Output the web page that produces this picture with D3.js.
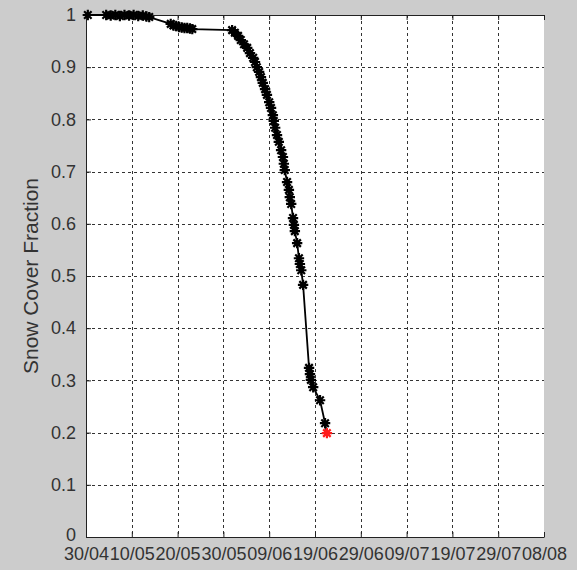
<!DOCTYPE html>
<html>
<head>
<meta charset="utf-8">
<script src="https://cdn.jsdelivr.net/npm/d3@7"></script>
<style>
  html, body { margin: 0; padding: 0; background: #cccccc; }
  svg { display: block; }
  text { font-family: "Liberation Sans", Arial, sans-serif; fill: #333; }
</style>
</head>
<body>
<svg id="chart" width="577" height="570"></svg>
<script>
// ---- data ----
// days since 30/04
const xTickDays = [0, 10, 20, 30, 40, 50, 60, 70, 80, 90, 100];
const xTickLabels = ["30/04", "10/05", "20/05", "30/05", "09/06", "19/06", "29/06", "09/07", "19/07", "29/07", "08/08"];
const yTicks = [0, 0.1, 0.2, 0.3, 0.4, 0.5, 0.6, 0.7, 0.8, 0.9, 1];
const yTickLabels = ["0", "0.1", "0.2", "0.3", "0.4", "0.5", "0.6", "0.7", "0.8", "0.9", "1"];
const dayOffsets = [
  0.4, 4.4, 5.4, 6.4, 7.4, 8.4, 9.4, 10.4, 11.4, 12.4, 13.2, 13.8,
  18.5, 19.1, 19.7, 20.3, 20.9, 21.5, 22.1, 22.7, 23.2,
  31.9, 32.5, 33.2, 33.8, 34.5, 35.2, 35.8, 36.5, 36.9, 37.3, 37.8, 38.2, 38.6,
  39.1, 39.5, 40.0, 40.4, 40.8, 41.0, 41.3, 41.7, 42.1, 42.6, 43.0, 43.2, 43.4,
  43.9, 44.3, 44.5, 44.8, 45.2, 45.4, 45.6, 46.1, 46.5, 46.7, 47.0, 47.4,
  48.7, 48.9, 49.1, 49.6, 51.1, 52.2, 52.6
];
const snowFraction = [
  1.0, 1.0, 0.999, 1.0, 0.998, 1.0, 0.999, 1.0, 0.998, 0.999, 0.997, 0.996,
  0.983, 0.980, 0.979, 0.977, 0.976, 0.975, 0.975, 0.974, 0.973,
  0.971, 0.966, 0.960, 0.952, 0.944, 0.937, 0.927, 0.918, 0.910, 0.900, 0.891, 0.881, 0.870,
  0.858, 0.847, 0.833, 0.822, 0.808, 0.797, 0.784, 0.770, 0.757, 0.741, 0.728, 0.715, 0.703,
  0.680, 0.665, 0.651, 0.638, 0.611, 0.598, 0.586, 0.563, 0.534, 0.523, 0.511, 0.483,
  0.324, 0.312, 0.301, 0.287, 0.262, 0.218, 0.199
];

// ---- layout ----
const svg = d3.select("#chart");
const margin = { left: 86, top: 15, right: 33, bottom: 33 };
const W = 577, H = 570;
const iw = W - margin.left - margin.right;
const ih = H - margin.top - margin.bottom;

const x = d3.scaleLinear().domain([0, 100]).range([margin.left, margin.left + iw]);
const y = d3.scaleLinear().domain([0, 1]).range([margin.top + ih, margin.top]);

// plot area
svg.append("rect")
  .attr("x", margin.left).attr("y", margin.top)
  .attr("width", iw).attr("height", ih)
  .attr("fill", "#ffffff");

// grid
const grid = svg.append("g").attr("stroke", "#333").attr("stroke-width", 1)
  .attr("stroke-dasharray", "3,3").attr("fill", "none");
xTickDays.slice(1, -1).forEach(d => {
  grid.append("line").attr("x1", Math.round(x(d)) + 0.5).attr("x2", Math.round(x(d)) + 0.5)
    .attr("y1", margin.top).attr("y2", margin.top + ih);
});
yTicks.slice(1, -1).forEach(v => {
  grid.append("line").attr("y1", Math.round(y(v)) + 0.5).attr("y2", Math.round(y(v)) + 0.5)
    .attr("x1", margin.left).attr("x2", margin.left + iw);
});

// axes (MATLAB style: inward ticks, box)
const tickLen = 5;
const xAxisB = d3.axisBottom(x).tickValues(xTickDays).tickSizeInner(-tickLen).tickSizeOuter(0)
  .tickPadding(10).tickFormat((d, i) => xTickLabels[i]);
const xAxisT = d3.axisTop(x).tickValues(xTickDays).tickSizeInner(-tickLen).tickSizeOuter(0).tickFormat("");
const yAxisL = d3.axisLeft(y).tickValues(yTicks).tickSizeInner(-tickLen).tickSizeOuter(0)
  .tickPadding(10).tickFormat((d, i) => yTickLabels[i]);
const yAxisR = d3.axisRight(y).tickValues(yTicks).tickSizeInner(-tickLen).tickSizeOuter(0).tickFormat("");

function style(g) {
  g.selectAll(".domain").attr("stroke", "#222");
  g.selectAll(".tick line").attr("stroke", "#222");
  g.selectAll("text").attr("fill", "#333").style("font-family", '"Liberation Sans", Arial, sans-serif');
}
svg.append("g").attr("transform", `translate(0,${margin.top + ih})`).call(xAxisB).call(style)
  .selectAll("text").style("font-size", "18px");
svg.append("g").attr("transform", `translate(0,${margin.top})`).call(xAxisT).call(style);
const yg = svg.append("g").attr("transform", `translate(${margin.left},0)`).call(yAxisL).call(style);
yg.selectAll("text").style("font-size", "18px");
yg.selectAll(".tick").filter(d => d === 0).select("text").attr("dy", "0.2em");

// y label
svg.append("text")
  .attr("transform", `translate(38,${margin.top + ih / 2}) rotate(-90)`)
  .attr("text-anchor", "middle")
  .style("font-size", "21px")
  .text("Snow Cover Fraction");

// line
const pts = dayOffsets.map((d, i) => [d, snowFraction[i]]);
svg.append("path")
  .datum(pts)
  .attr("fill", "none").attr("stroke", "#000").attr("stroke-width", 1.8)
  .attr("d", d3.line().x(p => x(p[0])).y(p => y(p[1])));

// asterisk markers
const r = 5.2, rd = r * 0.72;
const star = `M${-r},0L${r},0M0,${-r}L0,${r}M${-rd},${-rd}L${rd},${rd}M${-rd},${rd}L${rd},${-rd}`;
svg.append("g").selectAll("path")
  .data(pts)
  .join("path")
  .attr("transform", p => `translate(${x(p[0])},${y(p[1])})`)
  .attr("d", star)
  .attr("fill", "none")
  .attr("stroke", (p, i) => i === pts.length - 1 ? "#ff1a1a" : "#000")
  .attr("stroke-width", 2.2);
</script>
</body>
</html>
